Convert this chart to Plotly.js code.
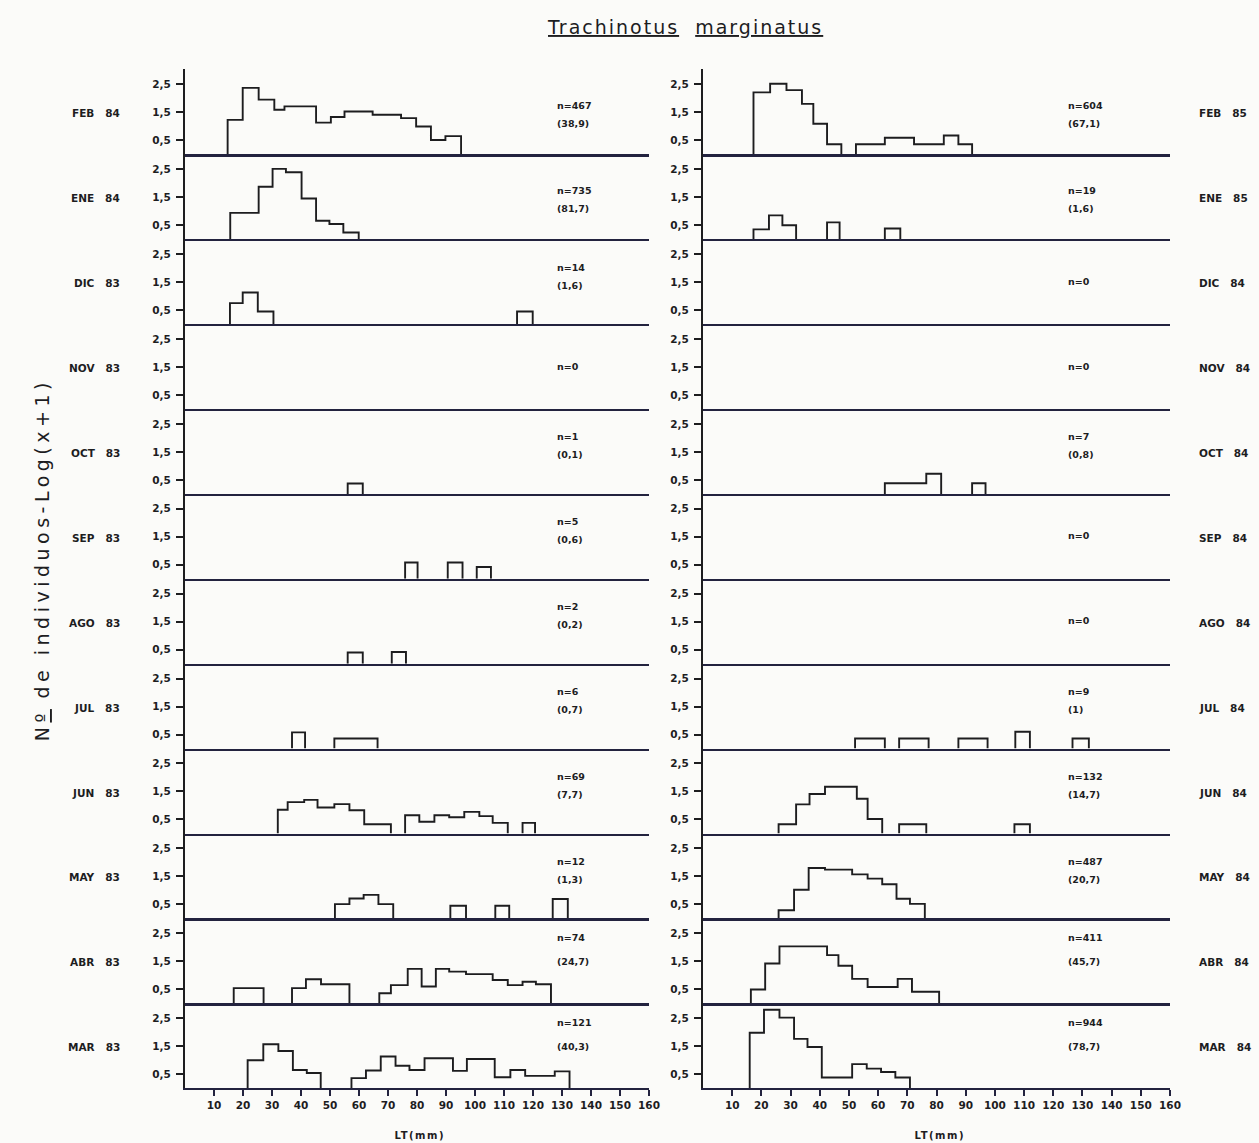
<!DOCTYPE html>
<html>
<head>
<meta charset="utf-8">
<script src="https://cdn.plot.ly/plotly-3.0.1.min.js"></script>
<style>
html,body{margin:0;padding:0;background:#fbfbf9;}
.annotation[data-index="0"] .annotation-text{letter-spacing:2px;}
.annotation[data-index="1"] .annotation-text{letter-spacing:4.5px;}
.annotation[data-index="2"] .annotation-text, .annotation[data-index="3"] .annotation-text{letter-spacing:1.5px;}
</style>
</head>
<body>
<div id="chart" style="width:1259px;height:1143px;"></div>
<script>
// ---- Data: step-histogram break points (LT, mm) and heights (Log(x+1)) ----
const rowLabelsLeft  = ['FEB 84','ENE 84','DIC 83','NOV 83','OCT 83','SEP 83','AGO 83','JUL 83','JUN 83','MAY 83','ABR 83','MAR 83'];
const rowLabelsRight = ['FEB 85','ENE 85','DIC 84','NOV 84','OCT 84','SEP 84','AGO 84','JUL 84','JUN 84','MAY 84','ABR 84','MAR 84'];
const nLeft   = ['n=467','n=735','n=14','n=0','n=1','n=5','n=2','n=6','n=69','n=12','n=74','n=121'];
const pctLeft = ['(38,9)','(81,7)','(1,6)','','(0,1)','(0,6)','(0,2)','(0,7)','(7,7)','(1,3)','(24,7)','(40,3)'];
const nRight   = ['n=604','n=19','n=0','n=0','n=7','n=0','n=0','n=9','n=132','n=487','n=411','n=944'];
const pctRight = ['(67,1)','(1,6)','','','(0,8)','','','(1)','(14,7)','(20,7)','(45,7)','(78,7)'];
const yTickVals = [0.5, 1.5, 2.5];
const yTickText = ['0,5', '1,5', '2,5'];
const xTickVals = [10,20,30,40,50,60,70,80,90,100,110,120,130,140,150,160];

// Left column: Mar 83 - Feb 84 (rows listed top to bottom)
const feb84X = [14.7,19.9,25.4,30.8,34.3,45.2,50.3,55.0,64.7,74.5,79.7,84.8,89.8,95.2];
const feb84Y = [1.23,2.37,1.95,1.59,1.71,1.13,1.33,1.53,1.41,1.29,0.99,0.51,0.65,0];
const ene84X = [15.6,25.4,30.2,34.8,40.2,45.2,49.8,54.6,59.9];
const ene84Y = [0.94,1.87,2.51,2.39,1.45,0.66,0.54,0.24,0];
const dic83X = [15.5,19.9,25.1,30.5,114.5,119.9];
const dic83Y = [0.75,1.13,0.45,0,0.45,0];
const nov83X = [];
const nov83Y = [];
const oct83X = [56.1,61.3];
const oct83Y = [0.37,0];
const sep83X = [75.9,80.2,90.6,95.7,100.6,105.5];
const sep83Y = [0.58,0,0.58,0,0.42,0];
const ago83X = [56.1,61.3,71.3,76.2];
const ago83Y = [0.40,0,0.42,0];
const jul83X = [36.9,41.4,51.5,66.4];
const jul83Y = [0.58,0,0.36,0];
const jun83X = [32.0,35.4,41.1,45.7,51.5,56.7,61.8,71.0,75.9,80.8,86.0,91.1,96.3,101.5,106.1,111.3,116.4,120.7];
const jun83Y = [0.85,1.12,1.20,0.93,1.05,0.83,0.33,0,0.65,0.42,0.65,0.58,0.77,0.62,0.38,0,0.38,0];
const may83X = [51.7,56.7,61.6,66.7,71.8,91.5,96.9,107.0,111.8,126.8,132.0];
const may83Y = [0.51,0.71,0.84,0.51,0,0.45,0,0.45,0,0.69,0];
const abr83X = [16.8,27.1,36.9,41.7,46.9,56.7,67.0,71.0,76.8,81.6,86.5,91.1,96.9,106.1,111.3,116.4,121.0,126.2];
const abr83Y = [0.54,0,0.54,0.86,0.68,0,0.36,0.65,1.23,0.60,1.23,1.13,1.04,0.83,0.65,0.77,0.68,0];
const mar83X = [21.6,27.0,32.2,37.2,42.0,46.8,57.4,62.4,67.5,72.6,77.4,82.6,92.4,97.2,106.8,112.2,117.3,127.5,132.6];
const mar83Y = [1.00,1.57,1.33,0.65,0.54,0,0.36,0.63,1.13,0.80,0.65,1.07,0.62,1.04,0.39,0.65,0.44,0.60,0];

// Right column: Mar 84 - Feb 85
const feb85X = [17.3,23.0,28.6,33.9,37.8,42.5,47.4,52.4,62.3,72.3,82.5,87.5,92.2];
const feb85Y = [2.21,2.52,2.29,1.80,1.09,0.36,0,0.36,0.59,0.36,0.67,0.36,0];
const ene85X = [17.3,22.6,27.2,31.9,42.5,46.8,62.3,67.6];
const ene85Y = [0.35,0.85,0.50,0,0.60,0,0.38,0];
const dic84X = [];
const dic84Y = [];
const nov84X = [];
const nov84Y = [];
const oct84X = [62.3,76.5,81.6,92.2,96.8];
const oct84Y = [0.38,0.72,0,0.38,0];
const sep84X = [];
const sep84Y = [];
const ago84X = [];
const ago84Y = [];
const jul84X = [52.1,62.3,67.2,77.3,87.5,97.5,107.0,112.0,126.6,132.2];
const jul84Y = [0.36,0,0.36,0,0.36,0,0.60,0,0.36,0];
const jun84X = [25.9,31.9,36.5,41.8,52.7,56.4,61.4,67.2,76.5,106.7,112.0];
const jun84Y = [0.33,1.04,1.41,1.67,1.24,0.52,0,0.33,0,0.33,0];
const may84X = [25.9,31.2,36.2,41.8,51.1,56.4,61.4,66.3,70.9,76.0];
const may84Y = [0.29,1.02,1.80,1.74,1.57,1.42,1.22,0.70,0.52,0];
const abr84X = [16.4,21.3,26.2,42.5,46.4,51.1,56.4,66.7,71.6,80.9];
const abr84Y = [0.49,1.42,2.03,1.72,1.34,0.87,0.58,0.87,0.41,0];
const mar84X = [16.0,20.9,26.2,31.2,35.8,40.7,51.1,56.1,61.0,65.9,70.9];
const mar84Y = [1.98,2.80,2.52,1.76,1.47,0.38,0.86,0.70,0.58,0.38,0];

const leftSeries  = [[feb84X,feb84Y],[ene84X,ene84Y],[dic83X,dic83Y],[nov83X,nov83Y],[oct83X,oct83Y],[sep83X,sep83Y],
                     [ago83X,ago83Y],[jul83X,jul83Y],[jun83X,jun83Y],[may83X,may83Y],[abr83X,abr83Y],[mar83X,mar83Y]];
const rightSeries = [[feb85X,feb85Y],[ene85X,ene85Y],[dic84X,dic84Y],[nov84X,nov84Y],[oct84X,oct84Y],[sep84X,sep84Y],
                     [ago84X,ago84Y],[jul84X,jul84Y],[jun84X,jun84Y],[may84X,may84Y],[abr84X,abr84Y],[mar84X,mar84Y]];

// Build step outline: each contiguous group starts at the baseline and returns to it; groups split by null.
function stepOutline(xs, hs) {
  const X = [], Y = [];
  let open = false;
  for (let i = 0; i < xs.length; i++) {
    if (!open && hs[i] > 0) { X.push(xs[i]); Y.push(0); open = true; }
    if (open) { X.push(xs[i]); Y.push(hs[i]); }
    if (open && hs[i] === 0) { X.push(null); Y.push(null); open = false; }
  }
  return [X, Y];
}

// ---- Layout geometry ----
const W = 1259, H = 1143;
const ROW_H = 84.9, FIRST_BASE = 154.3;
const colDomains = [[185/W, 649/W], [703/W, 1170/W]];
const FONT = 'DejaVu Sans';
const INK = '#1d1d1f';
const AXIS = '#23233f';

const traces = [];
const layout = {
  width: W, height: H,
  margin: {l:0, r:0, t:0, b:0},
  paper_bgcolor: '#fbfbf9', plot_bgcolor: 'rgba(0,0,0,0)',
  showlegend: false,
  font: {family: FONT, color: INK},
  annotations: []
};
function py(px){ return 1 - px / H; }
function pxX(px){ return px / W; }

// Titles first (indices 0..3 are styled in CSS)
layout.annotations.push({xref:'paper', yref:'paper', x: pxX(685), y: py(27), xanchor:'center', yanchor:'middle',
  showarrow:false, text:'<u>Trachinotus</u>\u00a0\u00a0<u>marginatus</u>',
  font:{family:'DejaVu Sans', size:19, color:INK}});
layout.annotations.push({xref:'paper', yref:'paper', x: pxX(42), y: py(560), xanchor:'center', yanchor:'middle',
  showarrow:false, textangle:-90, text:'N<u>º</u> de individuos-Log(x+1)',
  font:{family:'DejaVu Sans', size:19, color:INK}});
layout.annotations.push({xref:'paper', yref:'paper', x: pxX(420), y: py(1135), xanchor:'center', yanchor:'middle',
  showarrow:false, text:'LT(mm)', font:{family:FONT, size:10, color:INK, weight:'bold'}});
layout.annotations.push({xref:'paper', yref:'paper', x: pxX(940), y: py(1135), xanchor:'center', yanchor:'middle',
  showarrow:false, text:'LT(mm)', font:{family:FONT, size:10, color:INK, weight:'bold'}});

for (let r = 0; r < 12; r++) {
  const base = FIRST_BASE + r * ROW_H;
  const top = base - ROW_H;
  for (let c = 0; c < 2; c++) {
    const idx = r * 2 + c + 1;
    const xid = idx === 1 ? 'x' : 'x' + idx;
    const yid = idx === 1 ? 'y' : 'y' + idx;
    const xkey = idx === 1 ? 'xaxis' : 'xaxis' + idx;
    const ykey = idx === 1 ? 'yaxis' : 'yaxis' + idx;
    const isBottom = r === 11;
    layout[xkey] = {
      domain: colDomains[c], range: [0, 160], anchor: yid,
      showline: true, linecolor: AXIS, linewidth: 2.2,
      showgrid: false, zeroline: false,
      ticks: isBottom ? 'outside' : '', ticklen: 6, tickwidth: 2, tickcolor: AXIS,
      tickmode: 'array', tickvals: xTickVals,
      showticklabels: isBottom,
      tickfont: {family: FONT, size: 10.5, color: INK, weight: 'bold'},
      fixedrange: true
    };
    layout[ykey] = {
      domain: [py(base), py(top)], range: [0, 3.03], anchor: xid,
      showline: true, linecolor: INK, linewidth: 2,
      showgrid: false, zeroline: false,
      ticks: 'outside', ticklen: 7, tickwidth: 2, tickcolor: INK,
      ticklabelstandoff: 3,
      tickmode: 'array', tickvals: yTickVals, ticktext: yTickText,
      tickfont: {family: FONT, size: 10.5, color: INK, weight: 'bold'},
      fixedrange: true
    };
    const s = (c === 0 ? leftSeries : rightSeries)[r];
    const o = stepOutline(s[0], s[1]);
    traces.push({
      type: 'scatter', mode: 'lines', xaxis: xid, yaxis: yid,
      x: o[0].length ? o[0] : [0], y: o[1].length ? o[1] : [0],
      connectgaps: false,
      line: {shape: 'hv', color: INK, width: 1.9},
      hoverinfo: 'skip'
    });
  }
  // row labels
  layout.annotations.push({xref:'paper', yref:'paper', x: pxX(122), y: py(base - 41),
    xanchor:'right', yanchor:'middle', showarrow:false,
    text: rowLabelsLeft[r].replace(' ', '\u00a0\u00a0\u00a0'), font:{family:FONT, size:10.5, color:INK, weight:'bold'}});
  layout.annotations.push({xref:'paper', yref:'paper', x: pxX(1197), y: py(base - 41),
    xanchor:'left', yanchor:'middle', showarrow:false,
    text: rowLabelsRight[r].replace(' ', '\u00a0\u00a0\u00a0'), font:{family:FONT, size:10.5, color:INK, weight:'bold'}});
  // n annotations
  const off1 = r >= 10 ? 66 : (r <= 1 ? 49 : 57);
  const off2 = r >= 10 ? 42 : (r <= 1 ? 31 : 39);
  [[nLeft, pctLeft, 555], [nRight, pctRight, 1066]].forEach(function(t){
    const nTxt = t[0][r], pTxt = t[1][r];
    if (pTxt === '') {
      layout.annotations.push({xref:'paper', yref:'paper', x: pxX(t[2]), y: py(base - 43),
        xanchor:'left', yanchor:'middle', showarrow:false, text: nTxt,
        font:{family:FONT, size:9.5, color:INK, weight:'bold'}});
    } else {
      layout.annotations.push({xref:'paper', yref:'paper', x: pxX(t[2]), y: py(base - off1),
        xanchor:'left', yanchor:'middle', showarrow:false, text: nTxt,
        font:{family:FONT, size:9.5, color:INK, weight:'bold'}});
      layout.annotations.push({xref:'paper', yref:'paper', x: pxX(t[2]), y: py(base - off2),
        xanchor:'left', yanchor:'middle', showarrow:false, text: pTxt,
        font:{family:FONT, size:9.5, color:INK, weight:'bold'}});
    }
  });
}

Plotly.newPlot('chart', traces, layout, {staticPlot: true, displayModeBar: false});
</script>
</body>
</html>
